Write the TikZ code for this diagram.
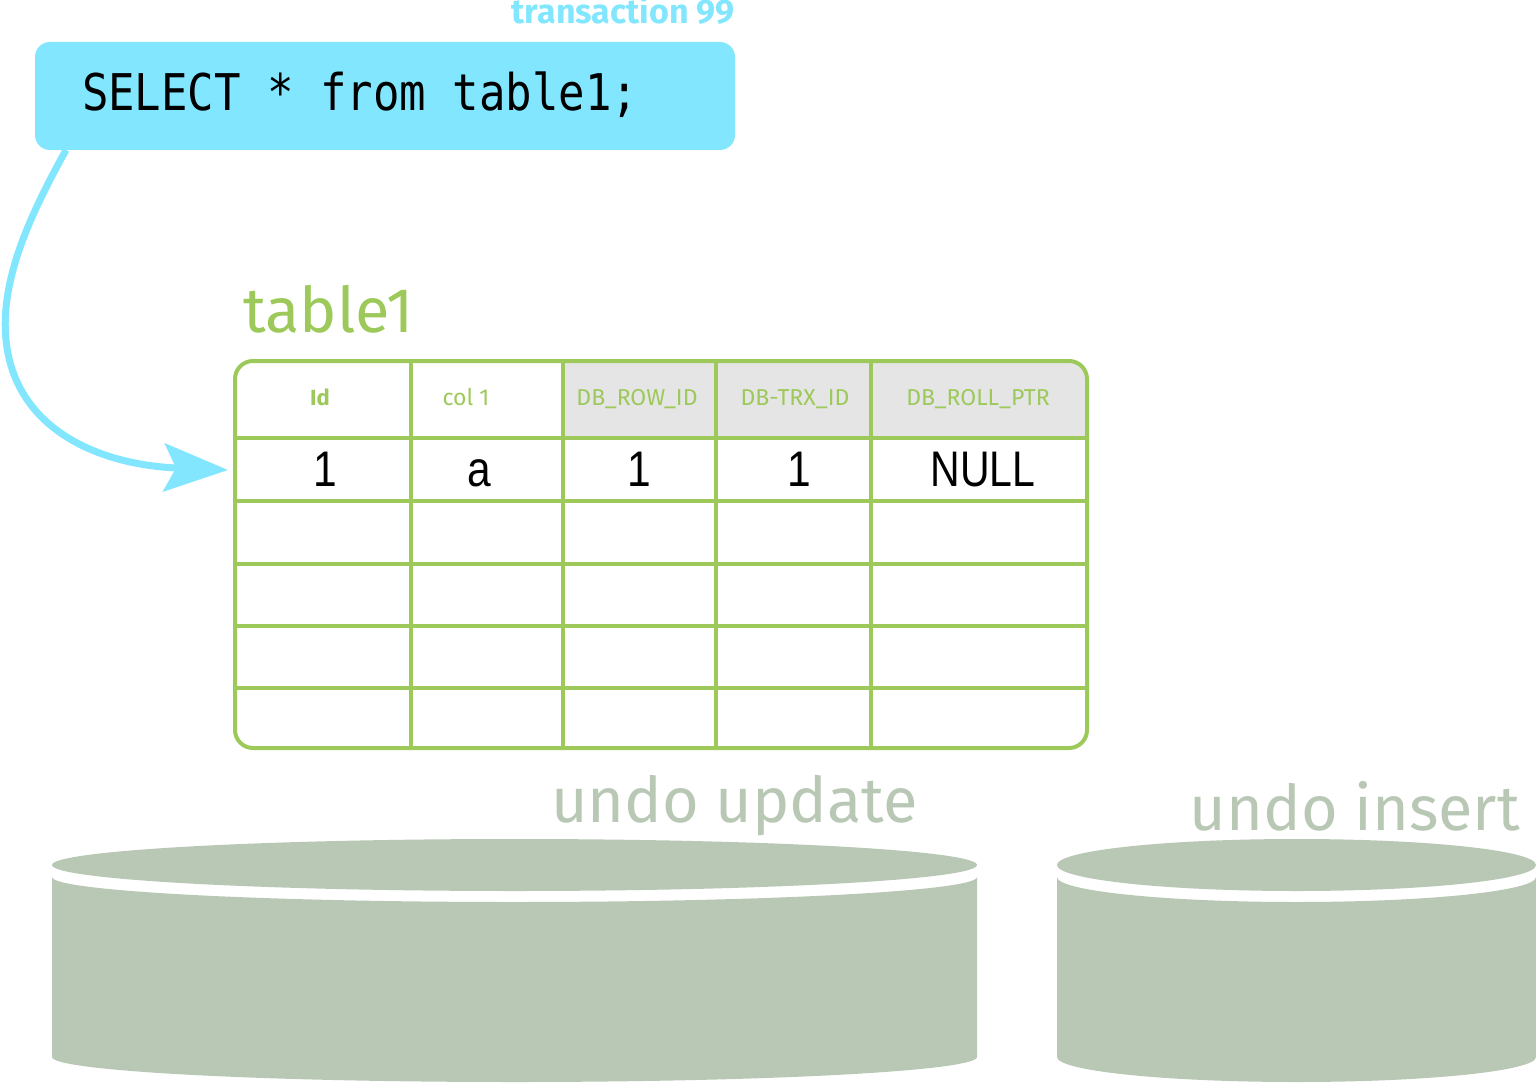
\documentclass[tikz,border=0pt]{standalone}
\usepackage{fontspec}
\usetikzlibrary{arrows.meta}
\newfontfamily\fira{Fira Sans}
\newfontfamily\monof{DejaVu Sans Mono}
\newfontfamily\libs{Liberation Sans}
\definecolor{cyanb}{HTML}{82E6FF}
\definecolor{tgreen}{HTML}{9CC95A}
\definecolor{hgray}{HTML}{E5E5E5}
\definecolor{undoc}{HTML}{B8C8B5}
\begin{document}
\begin{tikzpicture}[x=1pt,y=-1pt,
  every node/.style={inner sep=0pt,outer sep=0pt},
  hdr/.style={anchor=base,font=\fira\fontsize{23}{27}\selectfont,text=tgreen},
  datac/.style={anchor=base,font=\libs\fontsize{50}{60}\selectfont,text=black},
  gridl/.style={draw=tgreen,line width=4pt},
  undolabel/.style={anchor=base,font=\fira\fontsize{63}{75}\selectfont,text=undoc},
  cyl/.style={fill=undoc}]
\useasboundingbox (0,0) rectangle (1536,1083);

% transaction label
\node[anchor=base east,font=\fira\bfseries\fontsize{34}{40}\selectfont,text=cyanb] (trx) at (735,24) {transaction 99};

% select box
\node[draw=none,fill=cyanb,rounded corners=15pt,minimum width=700pt,minimum height=108pt] (sel) at (385,96) {};
\node[anchor=base west,font=\monof\fontsize{44}{52}\selectfont] (seltext) at (82,111) {\scalebox{1}[1.15]{SELECT * from table1;}};

% table title
\node[anchor=base west,font=\fira\fontsize{63}{75}\selectfont,text=tgreen] (ttitle) at (243,332) {table1};

% header gray
\begin{scope}
\clip[rounded corners=18pt] (235,361) rectangle (1087,748);
\fill[hgray] (563,361) rectangle (1087,438);
\end{scope}
% grid lines
\foreach \yy in {438,501,564,626,688}{\draw[gridl] (235,\yy) -- (1087,\yy);}
\foreach \xx in {411,563,716,871}{\draw[gridl] (\xx,361) -- (\xx,748);}
\draw[gridl,rounded corners=18pt] (235,361) rectangle (1087,748);

% header texts
\node[hdr,font=\fira\bfseries\fontsize{22}{26}\selectfont] (h1) at (320,405) {Id};
\node[hdr] (h2) at (466,405) {col 1};
\node[hdr] (h3) at (637,405) {DB\_ROW\_ID};
\node[hdr] (h4) at (795,405) {DB-TRX\_ID};
\node[hdr] (h5) at (978,405) {DB\_ROLL\_PTR};

% data row
\node[datac] (d1) at (325,486) {\scalebox{0.85}[1]{1}};
\node[datac] (d2) at (479,486) {\scalebox{0.85}[1]{a}};
\node[datac] (d3) at (639,486) {\scalebox{0.85}[1]{1}};
\node[datac] (d4) at (799,486) {\scalebox{0.85}[1]{1}};
\node[datac] (d5) at (983,486) {\scalebox{0.82}[1]{NULL}};

% arrow
\coordinate (atip) at (228,470);
\draw[cyanb,line width=7pt,-{Stealth[length=64pt,width=48pt,inset=12pt]}]
  ([xshift=31pt]sel.south west) .. controls (30,215) and (0,280) .. (6,340)
  .. controls (15,430) and (100,465) .. (atip);

% undo update cylinder
\fill[cyl] (514.5,865) ellipse[x radius=462.5,y radius=26];
\fill[cyl] (52,877) arc[start angle=180,end angle=0,x radius=462.5,y radius=25]
  -- (977,1057) arc[start angle=0,end angle=180,x radius=462.5,y radius=25] -- cycle;
\node[undolabel,anchor=base east] (uu) at (918,822) {undo update};

% undo insert cylinder
\fill[cyl] (1296.5,865) ellipse[x radius=239.5,y radius=26];
\fill[cyl] (1057,877) arc[start angle=180,end angle=0,x radius=239.5,y radius=25]
  -- (1536,1057) arc[start angle=0,end angle=180,x radius=239.5,y radius=25] -- cycle;
\node[undolabel,anchor=base east] (ui) at (1520,830) {undo insert};
\end{tikzpicture}
\end{document}
